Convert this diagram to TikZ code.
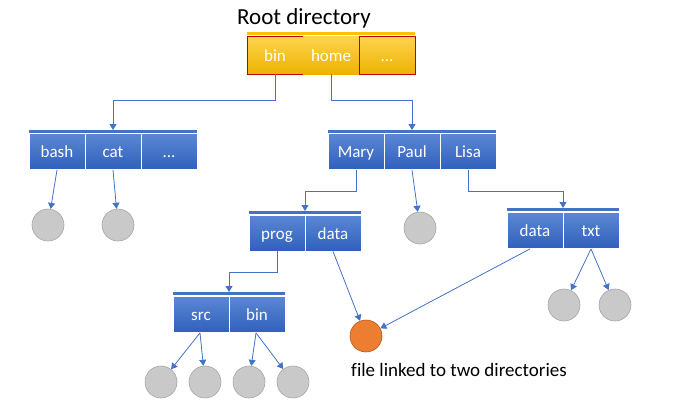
\documentclass[tikz,border=0pt]{standalone}
\usepackage{fontspec}
\setmainfont{Carlito}[Ligatures=CommonOff]
\usetikzlibrary{arrows.meta}
\definecolor{bluetop}{HTML}{5B87D4}
\definecolor{bluebot}{HTML}{3060BC}
\definecolor{bluebar}{HTML}{4472C4}
\definecolor{goldtop}{HTML}{FFD34F}
\definecolor{goldbot}{HTML}{EBB300}
\definecolor{goldbar}{HTML}{FFC000}
\definecolor{rootred}{HTML}{C00000}
\definecolor{filegray}{HTML}{C9C9C9}
\definecolor{filegrayedge}{HTML}{A6A6A6}
\definecolor{fileorange}{HTML}{ED7D31}
\definecolor{fileorangeedge}{HTML}{B8581E}
\begin{document}
\begin{tikzpicture}[x=1pt,y=-1pt,
  cell/.style={rectangle, minimum width=56pt, minimum height=36pt, inner sep=0pt,
    top color=bluetop, bottom color=bluebot, draw=white, line width=0.8pt,
    text=white, font=\fontsize{17}{17}\selectfont, text height=12pt, text depth=0pt},
  rootcell/.style={cell, minimum height=38pt, top color=goldtop, bottom color=goldbot, draw=none},
  redframe/.style={draw=rootred, line width=0.8pt},
  bar/.style={rectangle, fill=bluebar, minimum height=3pt, inner sep=0pt, outer sep=0pt},
  file/.style={circle, minimum size=32pt, inner sep=0pt, fill=filegray, draw=filegrayedge, line width=0.6pt},
  linkedfile/.style={file, fill=fileorange, draw=fileorangeedge},
  link/.style={draw=bluebar, line width=0.8pt, -{Triangle[length=6pt,width=7pt]}}
]
\useasboundingbox (0,0) rectangle (677,407);

% title
\node[font=\fontsize{23}{23}\selectfont] (title) at (304,18) {Root directory};

% root directory
\node[bar, fill=goldbar, minimum width=168pt] (rootbar) at (331,33.5) {};
\node[rootcell, redframe] (bin) at (275,55) {bin};
\node[rootcell] (home) at (331,55) {home};
\node[rootcell, redframe] (rdots) at (387,55) {...};

% bin directory
\node[bar, minimum width=168pt] (leftbar) at (113,131.5) {};
\node[cell] (bash) at (57,151.5) {bash};
\node[cell] (cat) at (113,151.5) {cat};
\node[cell] (ldots) at (169,151.5) {...};

% home directory
\node[bar, minimum width=168pt] (homebar) at (412,131.5) {};
\node[cell] (mary) at (356,151.5) {Mary};
\node[cell] (paul) at (412,151.5) {Paul};
\node[cell] (lisa) at (468,151.5) {Lisa};

% Mary directory
\node[bar, minimum width=112pt] (marybar) at (305,212.5) {};
\node[cell] (prog) at (277,233) {prog};
\node[cell] (mdata) at (333,233) {data};

% Lisa directory
\node[bar, minimum width=112pt] (lisabar) at (563,209.5) {};
\node[cell] (ldata) at (535,230.5) {data};
\node[cell] (txt) at (591,230.5) {txt};

% prog directory
\node[bar, minimum width=112pt] (progbar) at (229,293.5) {};
\node[cell] (src) at (201,314.5) {src};
\node[cell] (pbin) at (257,314.5) {bin};

% files
\node[file] (f1) at (48,225) {};
\node[file] (f2) at (118,225) {};
\node[file] (f3) at (420,228) {};
\node[file] (f4) at (564,305) {};
\node[file] (f5) at (615,305) {};
\node[file] (f6) at (161,382) {};
\node[file] (f7) at (205,382) {};
\node[file] (f8) at (249,382) {};
\node[file] (f9) at (293,382) {};
\node[linkedfile] (shared) at (366,336) {};

\node[font=\fontsize{19}{19}\selectfont] (lbl) at (459,370) {file linked to two directories};

% directory links
\draw[link] (bin.south) -- ++(0,26) -| (leftbar.north);
\draw[link] (home.south) -- ++(0,26) -| (homebar.north);
\draw[link] (mary.south) -- ++(0,21) -| (marybar.north);
\draw[link] (lisa.south) -- ++(0,21) -| (lisabar.north);
\draw[link] (prog.south) -- ++(0,21) -| (progbar.north);

% file links
\draw[link] (bash.south) -- (f1);
\draw[link] (cat.south) -- (f2);
\draw[link] (paul.south) -- (f3);
\draw[link] (txt.south) -- (f4);
\draw[link] (txt.south) -- (f5);
\draw[link] ([xshift=-1pt]src.south) -- (f6);
\draw[link] ([xshift=-1pt]src.south) -- (f7);
\draw[link] ([xshift=-1pt]pbin.south) -- (f8);
\draw[link] ([xshift=-1pt]pbin.south) -- (f9);
\draw[link] (mdata.south) -- (shared);
\draw[link] ([xshift=-5pt]ldata.south) -- (shared);
\end{tikzpicture}
\end{document}
